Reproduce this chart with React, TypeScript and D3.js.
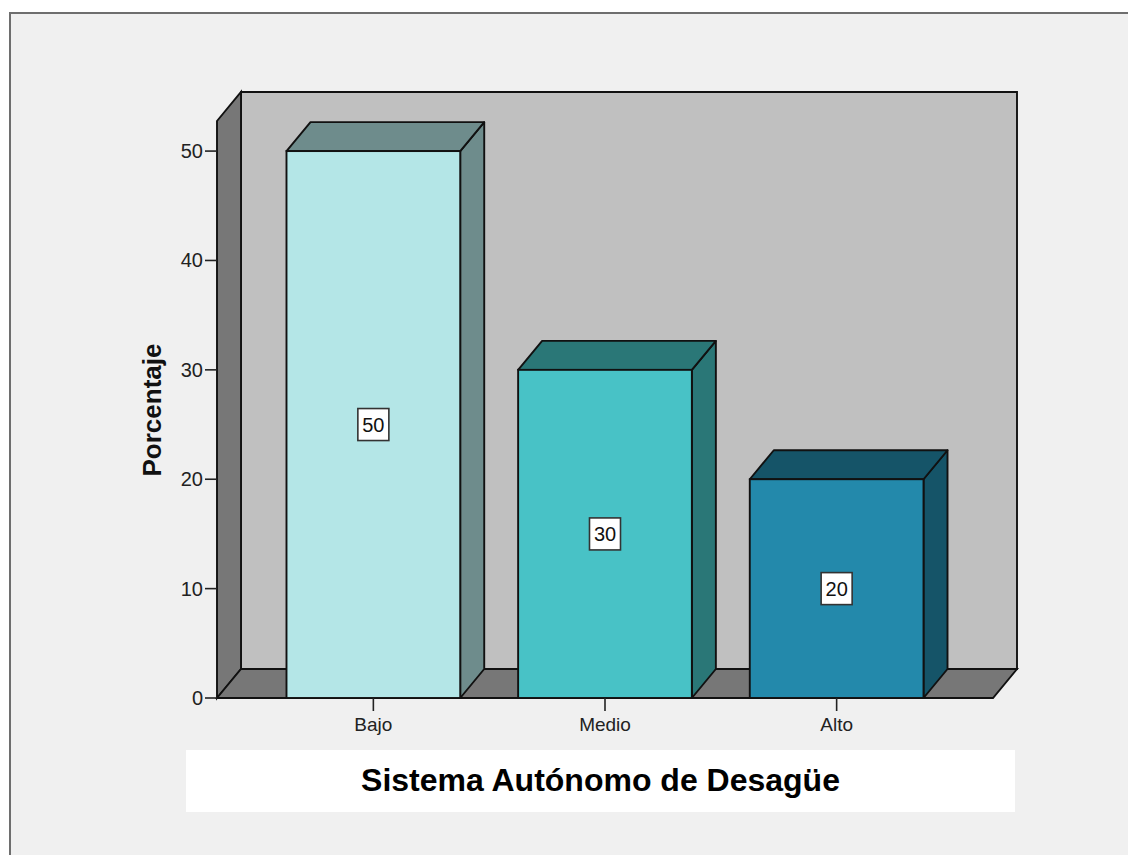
import React from "react";
import * as d3 from "d3";

// Porcentaje por nivel del Sistema Autónomo de Desagüe
const categories = ["Bajo", "Medio", "Alto"];
const percentages = [50, 30, 20];
const yTicks = [0, 10, 20, 30, 40, 50];
const frontColors = ["#b4e6e7", "#48c2c6", "#2389ab"];
const sideColors = ["#6e8c8c", "#2a7777", "#155468"];
const yTitle = "Porcentaje";
const chartTitle = "Sistema Autónomo de Desagüe";

const W = 1128;
const H = 855;

// front plane of the 3D frame
const X0 = 217;
const X1 = 993;
const Y0 = 698;
const YTOP = 121;
// depth offset of the back plane
const DX = 24;
const DY = -29;

const stroke = "#111111";
const sw = 1.9;

export default function App() {
  const y = d3.scaleLinear().domain([0, 52.75]).range([Y0, YTOP]);
  const x = d3
    .scaleBand<string>()
    .domain(categories)
    .range([X0, X1])
    .paddingInner(0.25)
    .paddingOuter(0.3);

  const poly = (pts: [number, number][]) => {
    const p = d3.path();
    pts.forEach(([px, py], i) => (i === 0 ? p.moveTo(px, py) : p.lineTo(px, py)));
    p.closePath();
    return p.toString();
  };

  const yBack = YTOP + DY;

  return (
    <svg
      width={W}
      height={H}
      style={{ position: "absolute", left: 0, top: 0, fontFamily: "'Liberation Sans', Arial, sans-serif" }}
    >
      <rect x={0} y={0} width={W} height={H} fill="#ffffff" />
      <rect x={10} y={13} width={W + 20} height={H + 20} fill="#f0f0f0" stroke="#6e6e6e" strokeWidth={2} />

      {/* back wall */}
      <path
        d={poly([
          [X0 + DX, yBack],
          [X1 + DX, yBack],
          [X1 + DX, Y0 + DY],
          [X0 + DX, Y0 + DY],
        ])}
        fill="#c0c0c0"
        stroke={stroke}
        strokeWidth={sw}
      />
      {/* left wall */}
      <path
        d={poly([
          [X0, Y0],
          [X0 + DX, Y0 + DY],
          [X0 + DX, yBack],
          [X0, YTOP],
        ])}
        fill="#777777"
        stroke={stroke}
        strokeWidth={sw}
      />
      {/* floor */}
      <path
        d={poly([
          [X0, Y0],
          [X1, Y0],
          [X1 + DX, Y0 + DY],
          [X0 + DX, Y0 + DY],
        ])}
        fill="#777777"
        stroke={stroke}
        strokeWidth={sw}
      />

      {/* bars */}
      {categories.map((c, i) => {
        const v = percentages[i];
        const bx = x(c) as number;
        const bw = x.bandwidth();
        const top = y(v);
        return (
          <g key={c}>
            <path
              d={poly([
                [bx + bw, Y0],
                [bx + bw + DX, Y0 + DY],
                [bx + bw + DX, top + DY],
                [bx + bw, top],
              ])}
              fill={sideColors[i]}
              stroke={stroke}
              strokeWidth={sw}
              strokeLinejoin="round"
            />
            <path
              d={poly([
                [bx, top],
                [bx + DX, top + DY],
                [bx + bw + DX, top + DY],
                [bx + bw, top],
              ])}
              fill={sideColors[i]}
              stroke={stroke}
              strokeWidth={sw}
              strokeLinejoin="round"
            />
            <rect x={bx} y={top} width={bw} height={Y0 - top} fill={frontColors[i]} stroke={stroke} strokeWidth={sw} />
          </g>
        );
      })}

      {/* value labels */}
      {categories.map((c, i) => {
        const v = percentages[i];
        const cx = (x(c) as number) + x.bandwidth() / 2;
        const cy = y(v / 2);
        return (
          <g key={"lbl" + c}>
            <rect x={cx - 15.5} y={cy - 16} width={31} height={32} fill="#ffffff" stroke="#333333" strokeWidth={1.6} />
            <text x={cx} y={cy} textAnchor="middle" dominantBaseline="central" fontSize={20} fill="#111">
              {v}
            </text>
          </g>
        );
      })}

      {/* y axis ticks */}
      {yTicks.map((t) => (
        <g key={"yt" + t}>
          <line x1={X0 - 12} x2={X0} y1={y(t)} y2={y(t)} stroke="#222" strokeWidth={1.6} />
          <text x={X0 - 14} y={y(t)} textAnchor="end" dominantBaseline="central" fontSize={20} fill="#222">
            {t}
          </text>
        </g>
      ))}

      {/* x axis ticks */}
      {categories.map((c) => {
        const cx = (x(c) as number) + x.bandwidth() / 2;
        return (
          <g key={"xt" + c}>
            <line x1={cx} x2={cx} y1={Y0} y2={Y0 + 13} stroke="#222" strokeWidth={1.6} />
            <text x={cx} y={Y0 + 33} textAnchor="middle" fontSize={19} fill="#222">
              {c}
            </text>
          </g>
        );
      })}

      {/* axis title */}
      <text
        transform={`translate(161,410) rotate(-90)`}
        textAnchor="middle"
        fontSize={26}
        fontWeight="bold"
        fill="#111"
      >
        {yTitle}
      </text>

      {/* chart title */}
      <rect x={186} y={750} width={829} height={62} fill="#ffffff" />
      <text x={600.5} y={791} textAnchor="middle" fontSize={32} fontWeight="bold" fill="#000">
        {chartTitle}
      </text>
    </svg>
  );
}
